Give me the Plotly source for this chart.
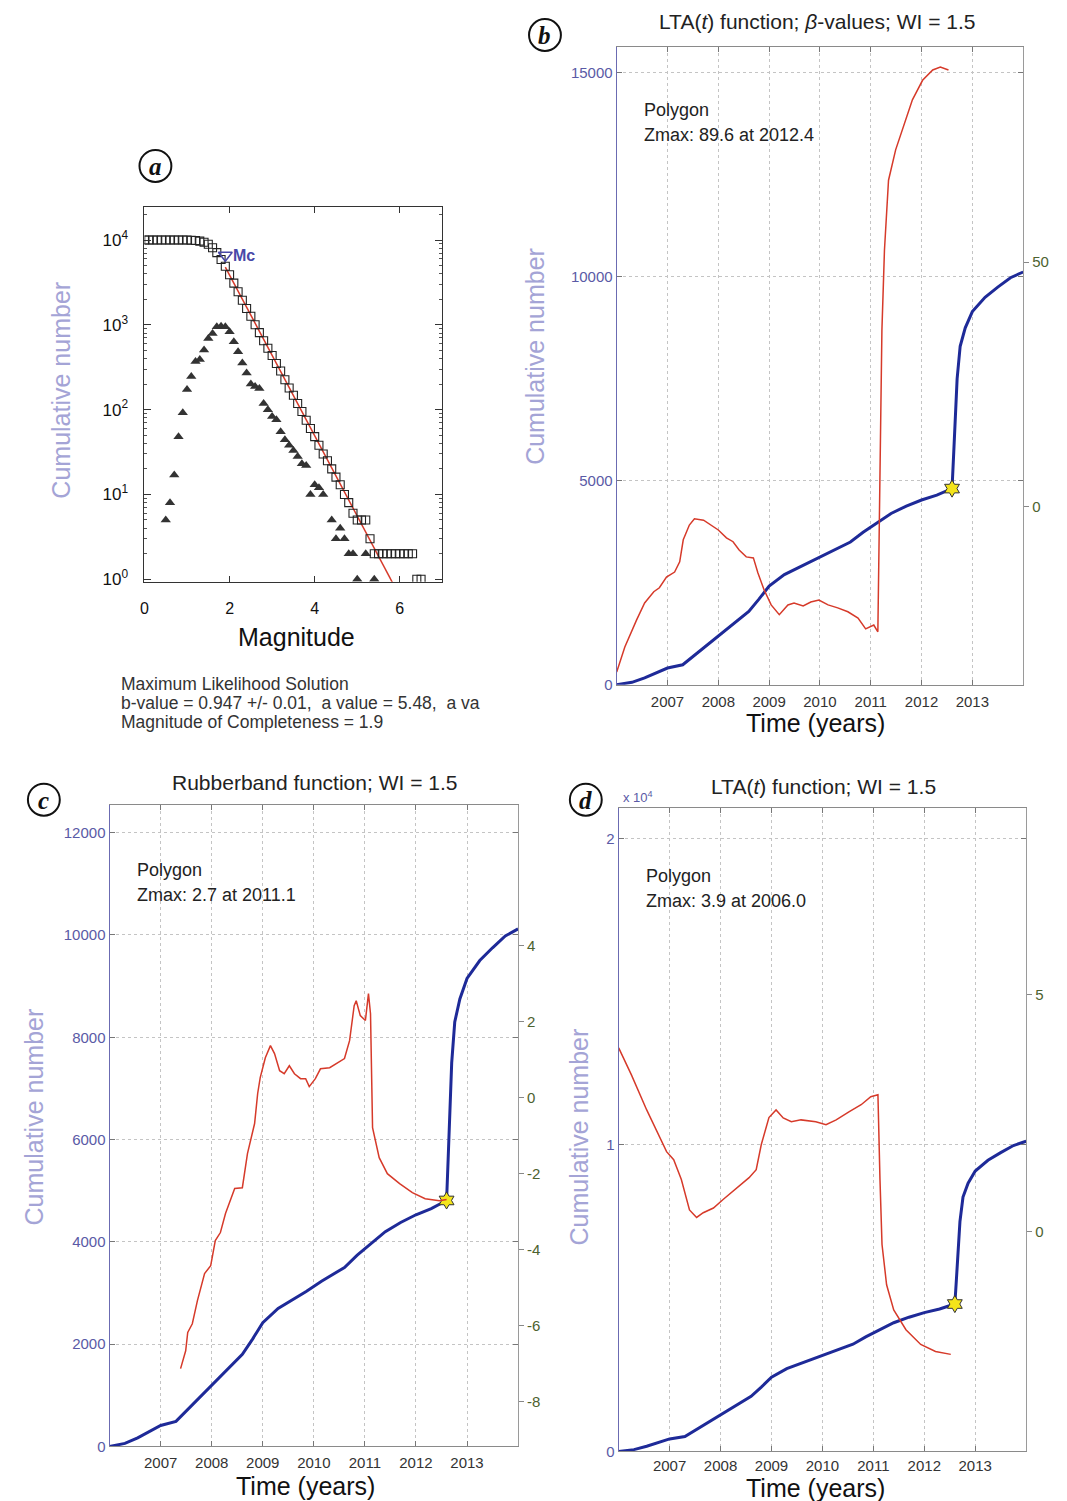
import plotly.graph_objects as go

# ---------------- data ----------------
# Panel (a): frequency-magnitude distribution
cum_mag = [0.0, 0.1, 0.2, 0.3, 0.4, 0.5, 0.6, 0.7, 0.8, 0.9, 1.0, 1.1, 1.2, 1.3, 1.4, 1.5, 1.6, 1.7,
           1.8, 1.9, 2.0, 2.1, 2.2, 2.3, 2.4, 2.5, 2.6, 2.7, 2.8, 2.9, 3.0, 3.1, 3.2, 3.3, 3.4, 3.5,
           3.6, 3.7, 3.8, 3.9, 4.0, 4.1, 4.2, 4.3, 4.4, 4.5, 4.6, 4.7, 4.8, 4.9, 5.0, 5.1, 5.2, 5.3,
           5.4, 5.5, 5.6, 5.7, 5.8, 5.9, 6.0, 6.1, 6.2, 6.3, 6.4, 6.5]
cum_count = [10000, 10000, 10000, 10000, 10000, 10000, 10000, 10000, 10000, 10000, 9990, 9950, 9860,
             9700, 9400, 8900, 8100, 7100, 5900, 4900, 3900, 3100, 2450, 1950, 1560, 1260, 1000, 810,
             650, 530, 435, 350, 285, 225, 180, 148, 118, 95, 75, 60, 48, 38, 30, 25, 20, 16, 13, 10,
             8, 6, 5, 5, 5, 3, 2, 2, 2, 2, 2, 2, 2, 2, 2, 2, 1, 1]
inc_mag = [0.5, 0.6, 0.7, 0.8, 0.9, 1.0, 1.1, 1.2, 1.3, 1.4, 1.5, 1.6, 1.7, 1.8, 1.9, 2.0, 2.1, 2.2,
           2.3, 2.4, 2.5, 2.6, 2.7, 2.8, 2.9, 3.0, 3.1, 3.2, 3.3, 3.4, 3.5, 3.6, 3.7, 3.8, 3.9, 4.0,
           4.1, 4.2, 4.4, 4.5, 4.6, 4.7, 4.8, 4.9, 5.0, 5.2, 5.4]
inc_count = [5, 8, 17, 48, 92, 173, 245, 370, 390, 505, 690, 790, 950, 960, 950, 830, 630, 480,
             355, 270, 200, 187, 178, 118, 100, 83, 76, 55, 44, 38, 33, 28, 23, 22, 10, 13,
             12, 10, 5, 3, 4, 3, 2, 2, 1, 2, 1]
fit_mag = [1.9, 5.85]
fit_count = [4800, 0.87]
mc_mag = [1.9]
mc_count = [6600]

# Cumulative number of events (same catalogue in b, c, d)
cum_t = [2006.0, 2006.3, 2006.55, 2006.8, 2007.0, 2007.3, 2007.55, 2008.0, 2008.3, 2008.6, 2008.8,
         2009.0, 2009.3, 2009.6, 2009.85, 2010.15, 2010.6, 2010.85, 2011.2, 2011.4, 2011.7, 2012.0,
         2012.3, 2012.6, 2012.63, 2012.66, 2012.7, 2012.76, 2012.86, 2013.0, 2013.25, 2013.5,
         2013.75, 2014.0]
cum_n = [0, 60, 170, 300, 410, 490, 740, 1200, 1500, 1800, 2100, 2420, 2700, 2880, 3030, 3230,
         3500, 3740, 4040, 4200, 4380, 4530, 4650, 4810, 5600, 6600, 7500, 8300, 8750, 9150, 9500,
         9750, 9980, 10120]
star_t = [2012.6]
star_n = [4810]

# Panel (b): LTA(t) beta-values
b_t = [2006.0, 2006.16, 2006.39, 2006.55, 2006.73, 2006.84, 2006.98, 2007.14, 2007.24, 2007.31,
       2007.43, 2007.53, 2007.71, 2007.86, 2008.0, 2008.16, 2008.29, 2008.41, 2008.55, 2008.69,
       2008.78, 2008.9, 2009.04, 2009.2, 2009.37, 2009.49, 2009.67, 2009.82, 2009.98, 2010.16,
       2010.35, 2010.55, 2010.75, 2010.9, 2011.06, 2011.14, 2011.16, 2011.18, 2011.22, 2011.27,
       2011.35, 2011.49, 2011.65, 2011.82, 2012.02, 2012.22, 2012.37, 2012.53]
b_val = [-33.7, -28.6, -23.1, -19.6, -17.3, -16.5, -14.3, -13.3, -11.2, -6.7, -3.7, -2.4, -2.7,
         -3.7, -4.7, -6.3, -7.1, -8.8, -10.2, -10.4, -13.5, -16.9, -20.0, -22.0, -20.0, -19.6,
         -20.2, -19.4, -19.0, -20.0, -20.6, -21.4, -22.7, -24.9, -24.1, -25.5, -10.8, 13.7, 36.1,
         52.4, 66.7, 72.9, 78.0, 83.1, 87.1, 89.2, 89.8, 89.2]

# Panel (c): Rubberband function
c_t = [2007.39, 2007.49, 2007.53, 2007.62, 2007.72, 2007.86, 2007.98, 2008.07, 2008.17, 2008.27,
       2008.45, 2008.6, 2008.7, 2008.84, 2008.9, 2008.95, 2009.05, 2009.15, 2009.23, 2009.33,
       2009.42, 2009.52, 2009.62, 2009.74, 2009.84, 2009.91, 2010.03, 2010.13, 2010.31, 2010.42,
       2010.6, 2010.7, 2010.79, 2010.83, 2010.91, 2011.01, 2011.07, 2011.11, 2011.15, 2011.28,
       2011.44, 2011.68, 2011.93, 2012.18, 2012.46, 2012.6]
c_val = [-7.13, -6.66, -6.18, -5.95, -5.34, -4.63, -4.42, -3.76, -3.55, -3.05, -2.39, -2.37, -1.47,
         -0.68, 0.11, 0.53, 1.05, 1.37, 1.16, 0.71, 0.63, 0.84, 0.63, 0.5, 0.5, 0.29, 0.5, 0.76,
         0.79, 0.89, 1.03, 1.5, 2.42, 2.55, 2.16, 2.03, 2.74, 2.21, -0.79, -1.58, -2.0, -2.26,
         -2.5, -2.66, -2.71, -2.68]

# Panel (d): LTA(t) function
d_t = [2006.0, 2006.25, 2006.55, 2006.74, 2006.94, 2007.08, 2007.23, 2007.39, 2007.53, 2007.66,
       2007.86, 2008.05, 2008.21, 2008.41, 2008.56, 2008.7, 2008.8, 2008.95, 2009.09, 2009.23,
       2009.39, 2009.58, 2009.87, 2010.07, 2010.27, 2010.52, 2010.76, 2010.95, 2011.09, 2011.13,
       2011.17, 2011.26, 2011.4, 2011.64, 2011.93, 2012.22, 2012.52]
d_val = [3.88, 3.31, 2.57, 2.15, 1.69, 1.52, 1.1, 0.46, 0.30, 0.40, 0.50, 0.68, 0.82, 0.99, 1.14,
         1.31, 1.84, 2.41, 2.57, 2.40, 2.32, 2.36, 2.32, 2.26, 2.36, 2.53, 2.68, 2.85, 2.89, 1.1,
         -0.27, -1.12, -1.65, -2.07, -2.38, -2.53, -2.59]

year_ticks = [2007, 2008, 2009, 2010, 2011, 2012, 2013]
year_text = ["2007", "2008", "2009", "2010", "2011", "2012", "2013"]
b_left_ticks = [0, 5000, 10000, 15000]
b_left_text = ["0", "5000", "10000", "15000"]
c_left_ticks = [0, 2000, 4000, 6000, 8000, 10000, 12000]
c_left_text = ["0", "2000", "4000", "6000", "8000", "10000", "12000"]
d_left_ticks = [0, 10000, 20000]
d_left_text = ["0", "1", "2"]
b_right_ticks = [0, 50]
c_right_ticks = [-8, -6, -4, -2, 0, 2, 4]
d_right_ticks = [0, 5]

# ---------------- layout helpers ----------------
W, H = 1067, 1501
SY = 1.005   # small vertical correction measured from earlier renders
FONT = "Liberation Sans, Arial, sans-serif"
SERIF = "Liberation Serif, Times New Roman, serif"


def fx(x):
    return x / W


def fy(y):
    return 1 - (y * SY) / H


BLUE = "#1e2a98"
RED = "#d63a2a"
GRID = "#c4c4c4"
LEFTC = "#5a5aa6"
RIGHTC = "#4d6230"
YTITLE = "#a4a4d6"

fig = go.Figure()

# Panel a traces
fig.add_trace(go.Scatter(x=inc_mag, y=inc_count, mode="markers", xaxis="x", yaxis="y",
                         marker=dict(symbol="triangle-up", size=9, color="#333333"),
                         showlegend=False))
fig.add_trace(go.Scatter(x=fit_mag, y=fit_count, mode="lines", xaxis="x", yaxis="y",
                         line=dict(color=RED, width=1.5), showlegend=False))
fig.add_trace(go.Scatter(x=cum_mag, y=cum_count, mode="markers", xaxis="x", yaxis="y",
                         marker=dict(symbol="square-open", size=8, color="#222222",
                                     line=dict(width=1.1)),
                         showlegend=False))
fig.add_trace(go.Scatter(x=mc_mag, y=mc_count, mode="markers", xaxis="x", yaxis="y",
                         marker=dict(symbol="triangle-down-open", size=12, color="#4848a8",
                                     line=dict(width=1.6)),
                         showlegend=False))

# Panels b, c, d
panels = [
    ("x2", "y2", "y3", b_t, b_val),
    ("x3", "y4", "y5", c_t, c_val),
    ("x4", "y6", "y7", d_t, d_val),
]
for xa, yl, yr, rt, rv in panels:
    fig.add_trace(go.Scatter(x=cum_t, y=cum_n, mode="lines", xaxis=xa, yaxis=yl,
                             line=dict(color=BLUE, width=3), showlegend=False))
    fig.add_trace(go.Scatter(x=rt, y=rv, mode="lines", xaxis=xa, yaxis=yr,
                             line=dict(color=RED, width=1.5), showlegend=False))

for xa, yl in [("x2", "y2"), ("x3", "y4"), ("x4", "y6")]:
    fig.add_trace(go.Scatter(x=star_t, y=star_n, mode="markers", xaxis=xa, yaxis=yl,
                             marker=dict(symbol="hexagram", size=13, color="#f4e41a",
                                         line=dict(color="#333333", width=1)),
                             showlegend=False))


def time_axis(dom, anchor, standoff=3):
    return dict(domain=dom, anchor=anchor, range=[2006, 2014], tickvals=year_ticks,
                ticktext=year_text, ticks="inside", ticklen=5, tickcolor="#777",
                showline=True, linecolor="#8a8a8a", linewidth=1, mirror="ticks",
                showgrid=True, gridcolor=GRID, griddash="dot", gridwidth=1,
                zeroline=False, ticklabelstandoff=standoff,
                tickfont=dict(family=FONT, size=15, color="#333"))


def left_axis(dom, anchor, rng, tv, tt):
    return dict(domain=dom, anchor=anchor, range=rng, tickvals=tv, ticktext=tt, ticks="inside",
                ticklen=5, tickcolor="#777", showline=True, linecolor="#6b6bb2", linewidth=1.2,
                mirror="ticks", showgrid=True, gridcolor=GRID, griddash="dot", gridwidth=1,
                zeroline=False, tickfont=dict(family=FONT, size=15, color=LEFTC))


def right_axis(over, anchor, rng, tv):
    return dict(overlaying=over, anchor=anchor, side="right", range=rng, tickvals=tv,
                ticktext=[str(v) for v in tv],
                ticks="outside", ticklen=5, tickcolor="#888", showline=True, linecolor="#9a9a9a",
                linewidth=1, showgrid=False, zeroline=False,
                tickfont=dict(family=FONT, size=15, color=RIGHTC))


dom_a_x = [fx(141), fx(440)]
dom_a_y = [fy(582), fy(207)]
dom_b_x = [fx(615), fx(1023)]
dom_b_y = [fy(685), fy(47)]
dom_c_x = [fx(106), fx(516)]
dom_c_y = [fy(1447), fy(805)]
dom_d_x = [fx(617), fx(1026)]
dom_d_y = [fy(1452), fy(808)]

minor_vals = [m * 10 ** k for k in range(0, 5) for m in range(2, 10)]

layout = dict(
    width=W, height=H, autosize=False,
    margin=dict(l=0, r=0, t=0, b=0),
    paper_bgcolor="white", plot_bgcolor="white",
    font=dict(family=FONT),
    showlegend=False,
    xaxis=dict(domain=dom_a_x, anchor="y", range=[0, 7], tickvals=[0, 2, 4, 6],
               ticktext=["0", "2", "4", "6"], ticks="inside", ticklabelstandoff=12,
               ticklen=6, tickcolor="#333", showline=True, linecolor="#333", mirror="ticks",
               showgrid=False, zeroline=False, tickfont=dict(family=FONT, size=16, color="#111")),
    yaxis=dict(domain=dom_a_y, anchor="x", type="log", range=[-0.03, 4.39],
               tickvals=[1, 10, 100, 1000, 10000],
               ticktext=["10<sup>0</sup>", "10<sup>1</sup>", "10<sup>2</sup>", "10<sup>3</sup>",
                         "10<sup>4</sup>"],
               ticks="inside", ticklen=7, tickcolor="#333", showline=True, linecolor="#333",
               mirror="allticks", showgrid=False, zeroline=False, ticklabelstandoff=12,
               minor=dict(tickvals=minor_vals, ticks="inside", ticklen=3, tickcolor="#555"),
               tickfont=dict(family=FONT, size=17, color="#111")),
    xaxis2=time_axis(dom_b_x, "y2"),
    yaxis2=left_axis(dom_b_y, "x2", [0, 15637], b_left_ticks, b_left_text),
    yaxis3=right_axis("y2", "x2", [-36.3, 93.9], b_right_ticks),
    xaxis3=time_axis(dom_c_x, "y4"),
    yaxis4=left_axis(dom_c_y, "x3", [0, 12547], c_left_ticks, c_left_text),
    yaxis5=right_axis("y4", "x3", [-9.18, 7.71], c_right_ticks),
    xaxis4=time_axis(dom_d_x, "y6", standoff=1),
    yaxis6=left_axis(dom_d_y, "x4", [0, 21000], d_left_ticks, d_left_text),
    yaxis7=right_axis("y6", "x4", [-4.64, 8.95], d_right_ticks),
)
fig.update_layout(**layout)

ann = []


def text(x, y, s, size, color="#222", xanchor="center", angle=0, family=FONT, yanchor="middle"):
    ann.append(dict(x=fx(x), y=fy(y), xref="paper", yref="paper", text=s, showarrow=False,
                    xanchor=xanchor, yanchor=yanchor, textangle=angle,
                    font=dict(family=family, size=size, color=color)))


# Panel a texts
text(294, 637, "Magnitude", 25, "#111")
text(57, 390, "Cumulative number", 25, YTITLE, angle=-90)
text(115, 684, "Maximum Likelihood Solution", 17.5, "#333", xanchor="left")
text(115, 703, "b-value = 0.947 +/- 0.01,  a value = 5.48,  a va", 17.5, "#333", xanchor="left")
text(115, 722, "Magnitude of Completeness = 1.9", 17.5, "#333", xanchor="left")
ann.append(dict(x=2.03, y=3.82, xref="x", yref="y", text="<b>Mc</b>", showarrow=False,
                xanchor="left", yanchor="middle", font=dict(family=FONT, size=16, color="#4848a8")))

# Panel b texts
text(816, 22, "LTA(<i>t</i>) function; <i>β</i>-values; WI = 1.5", 21, "#222")
text(815, 723, "Time (years)", 25, "#111")
text(533, 357, "Cumulative number", 25, YTITLE, angle=-90)
text(640, 110, "Polygon", 18, "#222", xanchor="left")
text(640, 135, "Zmax: 89.6 at 2012.4", 18, "#222", xanchor="left")

# Panel c texts
text(312, 783, "Rubberband function; WI = 1.5", 21, "#222")
text(303, 1487, "Time (years)", 25, "#111")
text(30, 1117, "Cumulative number", 25, YTITLE, angle=-90)
text(131, 870, "Polygon", 18, "#222", xanchor="left")
text(131, 895, "Zmax: 2.7 at 2011.1", 18, "#222", xanchor="left")

# Panel d texts
text(823, 787, "LTA(<i>t</i>) function; WI = 1.5", 21, "#222")
text(815, 1489, "Time (years)", 25, "#111")
text(577, 1137, "Cumulative number", 25, YTITLE, angle=-90)
text(642, 876, "Polygon", 18, "#222", xanchor="left")
text(642, 901, "Zmax: 3.9 at 2006.0", 18, "#222", xanchor="left")
text(636, 797, "x 10<sup>4</sup>", 13, LEFTC)

# Panel letters in circles
shapes = []
for (cx, cy, letter) in [(152, 166, "a"), (543, 35, "b"), (40, 800, "c"), (584, 800, "d")]:
    r = 16
    shapes.append(dict(type="circle", xref="paper", yref="paper",
                       x0=fx(cx - r), x1=fx(cx + r), y0=fy(cy + r), y1=fy(cy - r),
                       line=dict(color="#111", width=2), fillcolor="rgba(0,0,0,0)"))
    text(cx, cy + 1, "<b><i>" + letter + "</i></b>", 25, "#111", family=SERIF)

fig.update_layout(annotations=ann, shapes=shapes)

# remove the default 8px page margin so the figure fills the window exactly
fig.write_html(
    "out.html",
    config={"displayModeBar": False},
    post_script=("document.body.style.margin='0';"
                 "document.body.style.overflow='hidden';"
                 "document.documentElement.style.overflow='hidden';"),
)
